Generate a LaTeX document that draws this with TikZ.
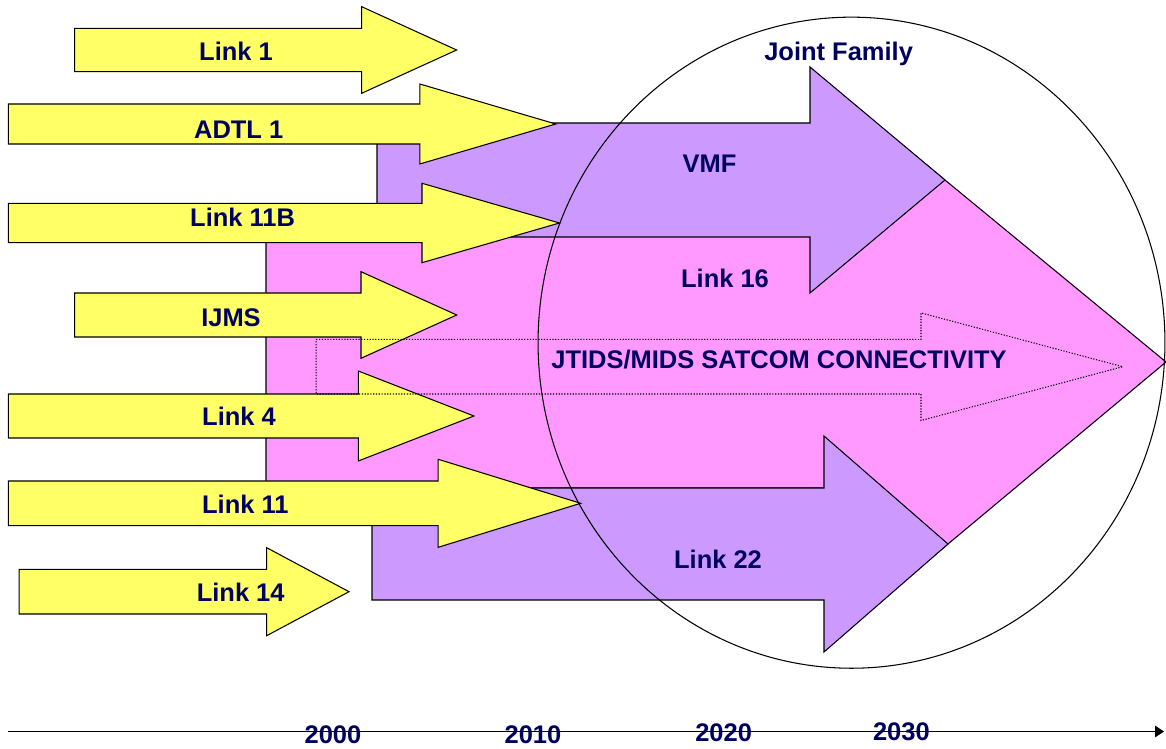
\documentclass[tikz,border=0pt]{standalone}
\usepackage{fontspec}
\setmainfont{Liberation Sans}
\usetikzlibrary{arrows.meta}

\definecolor{linkyellow}{HTML}{FFFF66}
\definecolor{linkpink}{HTML}{FF99FF}
\definecolor{linkpurple}{HTML}{CC99FF}
\definecolor{labelnavy}{HTML}{000060}

% block arrow: #1 style, #2 tail x, #3 head base x, #4 tip x,
% #5 centre y, #6 half shaft height, #7 half head height
\newcommand\blockarrow[7]{%
  \draw[#1] (#2,{#5-#6}) -- (#3,{#5-#6}) -- (#3,{#5-#7}) -- (#4,#5)
    -- (#3,{#5+#7}) -- (#3,{#5+#6}) -- (#2,{#5+#6}) -- cycle;}

\tikzset{
  outline/.style={draw=black, line width=0.6pt, line join=miter},
  legacy/.style={outline, fill=linkyellow},
  future/.style={outline, fill=linkpurple},
  core/.style={outline, fill=linkpink},
  satcom/.style={draw=black, line width=0.6pt, dash pattern=on 0.7pt off 0.9pt},
  lbl/.style={text=labelnavy, font=\fontsize{14.5}{17}\selectfont\bfseries,
    inner sep=0pt, anchor=base},
  timeline/.style={draw=black, line width=0.6pt,
    -{Triangle[length=5pt, width=6.5pt]}}
}

\begin{document}
\begin{tikzpicture}[x=0.02cm, y=-0.02cm]
\useasboundingbox (0,0) rectangle (1166,749);

% Link 16: the wide core arrow
\draw[core] (266,236) -- (815,236) -- (815,73) -- (1166,362)
  -- (830,642.5) -- (830,488) -- (266,488) -- cycle;

% VMF and Link 22
\blockarrow{future}{377}{810}{945}{180}{57}{113}
\blockarrow{future}{372}{824}{948}{544}{56}{108}

% legacy links
\blockarrow{legacy}{74.6}{361.7}{456.6}{50}{21.7}{43.3}
\blockarrow{legacy}{8.4}{419.8}{555.7}{124}{20}{40}
\blockarrow{legacy}{8.4}{422}{559.5}{223}{19.7}{39.7}
\blockarrow{legacy}{74.6}{361}{456.7}{315}{22}{43.3}
\blockarrow{legacy}{8.4}{358.3}{473.9}{416}{22}{45}
\blockarrow{legacy}{8.4}{438.2}{580.6}{503.3}{22.3}{44}
\blockarrow{legacy}{19.1}{266.7}{349}{591.7}{22.3}{44}

% SATCOM connectivity, dotted outline
\blockarrow{satcom}{316.2}{921}{1122.7}{366.7}{27.3}{53.8}

% joint family boundary
\draw[black, line width=0.6pt] (851.5,342.7) ellipse [x radius=6.27cm, y radius=6.512cm];

% time axis
\coordinate (axisstart) at (8,731.5);
\coordinate (axisend) at (1164,731.5);
\draw[timeline] (axisstart) -- (axisend);

% labels
\node[lbl] (l1)    at (236,60.2)    {Link 1};
\node[lbl] (adtl)  at (238.7,138.2) {ADTL 1};
\node[lbl] (l11b)  at (242.6,226.2) {Link 11B};
\node[lbl] (joint) at (838.6,60.2)  {Joint Family};
\node[lbl] (vmf)   at (709.6,172.2) {VMF};
\node[lbl] (l16)   at (725,287.2)   {Link 16};
\node[lbl] (ijms)  at (231,326.2)   {IJMS};
\node[lbl] (sat)   at (779,368.7)   {JTIDS/MIDS SATCOM CONNECTIVITY};
\node[lbl] (l4)    at (239,425.2)   {Link 4};
\node[lbl] (l11)   at (245.3,513.2) {Link 11};
\node[lbl] (l14)   at (240.7,601)   {Link 14};
\node[lbl] (l22)   at (718,568.2)   {Link 22};
\node[lbl] (y2000) at (333,743.2)   {2000};
\node[lbl] (y2010) at (533,743.2)   {2010};
\node[lbl] (y2020) at (723.6,741.8) {2020};
\node[lbl] (y2030) at (901.4,740)   {2030};
\end{tikzpicture}
\end{document}
